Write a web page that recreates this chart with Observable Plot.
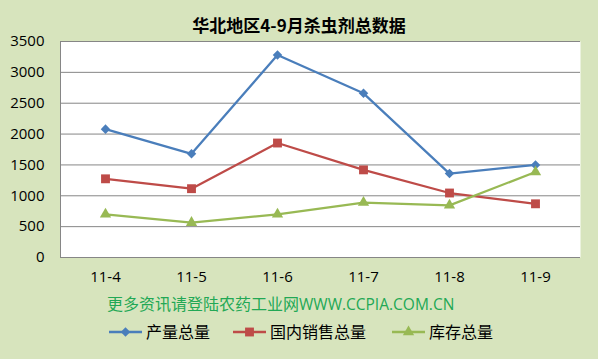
<!DOCTYPE html>
<html>
<head>
<meta charset="utf-8">
<script src="https://cdn.jsdelivr.net/npm/d3@7"></script>
<script src="https://cdn.jsdelivr.net/npm/@observablehq/plot@0.6"></script>
<style>
  html, body { margin: 0; padding: 0; }
  body { width: 598px; height: 359px; background: #D7E4BD; position: relative; overflow: hidden; font-family: "Open Sans", "Noto Sans CJK SC", sans-serif; }
  #title { position: absolute; top: 13px; left: 0; width: 598px; text-align: center; font: bold 17px "Noto Sans CJK SC", serif; line-height: 24px; color: #000; }
  #chart { position: absolute; top: 30px; left: 0; }
  #note { position: absolute; top: 292px; left: 107px; font: 16px "Noto Sans CJK SC", sans-serif; line-height: 22px; color: #22A855; white-space: nowrap; }
  #note .latin { font-family: "Open Sans", sans-serif; font-size: 15.5px; }
  #legend { position: absolute; top: 320px; left: 0; width: 598px; height: 22px; font: 16px "Noto Sans CJK SC", sans-serif; color: #000; }
  .item { position: absolute; top: 0; display: flex; align-items: center; height: 22px; white-space: nowrap; }
  .item svg { margin-right: 4px; }
</style>
</head>
<body>
<div id="title">华北地区4-9月杀虫剂总数据</div>
<div id="chart"></div>
<div id="note">更多资讯请登陆农药工业网<span class="latin">WWW.CCPIA.COM.CN</span></div>
<div id="legend"></div>
<script>
const months = ["11-4", "11-5", "11-6", "11-7", "11-8", "11-9"];
const production = [2080, 1680, 3280, 2660, 1360, 1500];
const domesticSales = [1275, 1115, 1855, 1420, 1045, 870];
const inventory = [700, 565, 700, 890, 845, 1385];
const yTicks = [0, 500, 1000, 1500, 2000, 2500, 3000, 3500];
const seriesNames = ["产量总量", "国内销售总量", "库存总量"];
const seriesColors = ["#4A7EBB", "#BE4B48", "#98B954"];

// square-diamond marker like Excel's
const excelDiamond = {
  draw(context, size) {
    const h = Math.sqrt(size / 2);
    context.moveTo(0, -h);
    context.lineTo(h, 0);
    context.lineTo(0, h);
    context.lineTo(-h, 0);
    context.closePath();
  }
};
const seriesSymbols = [excelDiamond, d3.symbolSquare, d3.symbolTriangle];
const seriesR = [3.8, 5, 4.2];

const seriesValues = [production, domesticSales, inventory];
const rows = [];
seriesValues.forEach((vals, s) => vals.forEach((v, i) => rows.push({month: months[i], value: v, series: seriesNames[s]})));

const marks = [
  Plot.frame({fill: "white", stroke: null}),
  Plot.ruleY(yTicks, {stroke: "#868686", strokeWidth: 1}),
  Plot.frame({anchor: "left", stroke: "#868686"})
];
seriesNames.forEach((name, s) => {
  const data = rows.filter(d => d.series === name);
  marks.push(Plot.line(data, {x: "month", y: "value", stroke: seriesColors[s], strokeWidth: 2.25}));
  marks.push(Plot.dot(data, {x: "month", y: "value", symbol: seriesSymbols[s], fill: seriesColors[s], stroke: null, r: seriesR[s]}));
});

const chart = Plot.plot({
  width: 598,
  height: 260,
  marginTop: 11,
  marginBottom: 33,
  marginLeft: 60,
  marginRight: 18,
  style: {background: "transparent", fontFamily: "Open Sans, sans-serif", fontSize: "15px", color: "#000"},
  x: {type: "point", domain: months, padding: 0.5, label: null, tickSize: 0, tickPadding: 14},
  y: {domain: [0, 3500], ticks: yTicks, label: null, tickSize: 0, tickPadding: 16, tickFormat: d => String(d)},
  marks
});
document.getElementById("chart").appendChild(chart);

const legend = document.getElementById("legend");
const lefts = [109, 233, 392];
seriesNames.forEach((name, s) => {
  const item = document.createElement("div");
  item.className = "item";
  item.style.left = lefts[s] + "px";
  const svg = d3.create("svg").attr("width", 33).attr("height", 22);
  svg.append("line").attr("x1", 0).attr("x2", 33).attr("y1", 12).attr("y2", 12).attr("stroke", seriesColors[s]).attr("stroke-width", 2.5);
  const size = Math.PI * seriesR[s] * seriesR[s];
  svg.append("path").attr("d", d3.symbol(seriesSymbols[s], size)()).attr("transform", "translate(16.5,12)").attr("fill", seriesColors[s]);
  item.appendChild(svg.node());
  const span = document.createElement("span");
  span.textContent = name;
  item.appendChild(span);
  legend.appendChild(item);
});
</script>
</body>
</html>
